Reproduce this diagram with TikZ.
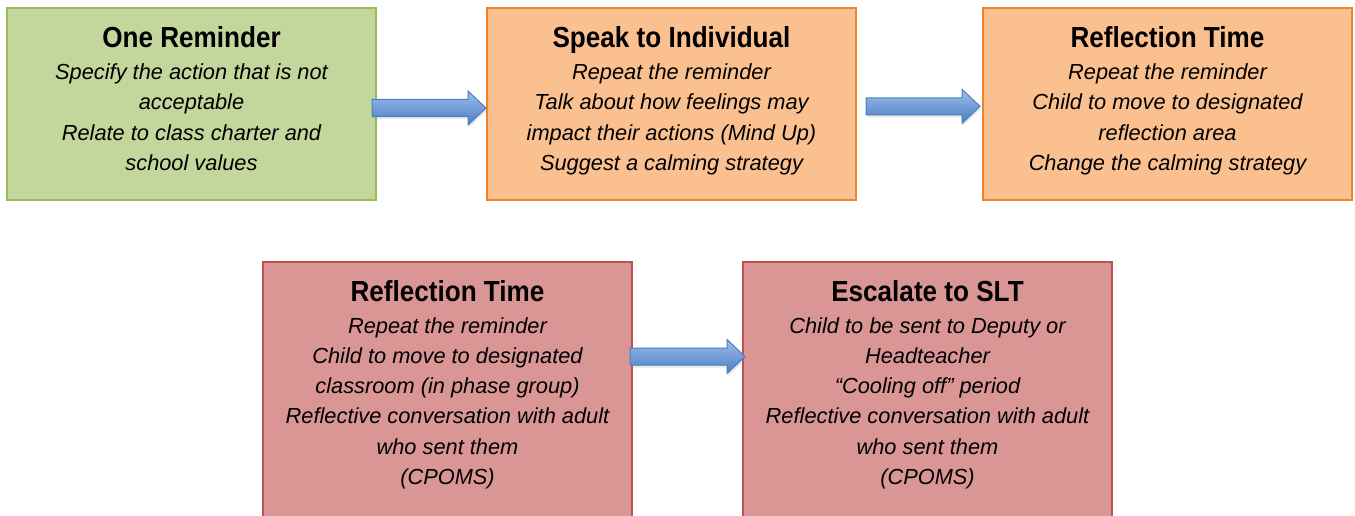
\documentclass[tikz,border=0pt]{standalone}
\usepackage{fontspec}
\usetikzlibrary{shadows}
\setmainfont{Liberation Sans}
\newfontfamily\titlefont{Liberation Sans}[FakeStretch=0.9]
\definecolor{gfill}{HTML}{C3D69B}
\definecolor{gdraw}{HTML}{9BBB59}
\definecolor{ofill}{HTML}{FAC090}
\definecolor{odraw}{HTML}{F0822A}
\definecolor{rfill}{HTML}{D99694}
\definecolor{rdraw}{HTML}{C0504D}
\definecolor{atop}{HTML}{9DBDEA}
\definecolor{abot}{HTML}{4A7EC4}
\definecolor{adraw}{HTML}{4A7EBB}
\tikzset{
  stepbox/.style={rectangle, minimum width=369pt, line width=1.5pt, inner sep=0pt},
  boxtext/.style={anchor=north, align=center, inner sep=0pt,
    font=\fontsize{21.8}{30.3}\selectfont\itshape},
  blockarrow/.style={draw=adraw, line width=1pt, top color=atop, bottom color=abot,
    drop shadow={opacity=0.2, shadow xshift=1pt, shadow yshift=-2.5pt}}
}
\newcommand\ttl[1]{{\titlefont\upshape\bfseries\fontsize{29}{30}\selectfont #1}\\[1.3pt]}
\newcommand\barrow[3]{%
  \path[blockarrow] (#1,#3-8.5) -- (#2-18,#3-8.5) -- (#2-18,#3-17) -- (#2,#3)
    -- (#2-18,#3+17) -- (#2-18,#3+8.5) -- (#1,#3+8.5) -- cycle;}
\begin{document}
\begin{tikzpicture}[x=1pt,y=-1pt]
\useasboundingbox (0,0) rectangle (1355,516);
\node[stepbox, minimum height=192pt, fill=gfill, draw=gdraw] (b1) at (191.5,104) {};
\node[stepbox, minimum height=192pt, fill=ofill, draw=odraw] (b2) at (671.5,104) {};
\node[stepbox, minimum height=192pt, fill=ofill, draw=odraw] (b3) at (1167.5,104) {};
\node[stepbox, minimum height=270pt, fill=rfill, draw=rdraw] (b4) at (447.5,397) {};
\node[stepbox, minimum height=270pt, fill=rfill, draw=rdraw] (b5) at (927.5,397) {};

\node[boxtext] (t1) at ([yshift=-19.5pt]b1.north) {\ttl{One Reminder}Specify the action that is not\\acceptable\\Relate to class charter and\\school values};
\node[boxtext] (t2) at ([yshift=-19.5pt]b2.north) {\ttl{Speak to Individual}Repeat the reminder\\Talk about how feelings may\\impact their actions (Mind Up)\\Suggest a calming strategy};
\node[boxtext] (t3) at ([yshift=-19.5pt]b3.north) {\ttl{Reflection Time}Repeat the reminder\\Child to move to designated\\reflection area\\Change the calming strategy};
\node[boxtext] (t4) at ([yshift=-19pt]b4.north) {\ttl{Reflection Time}Repeat the reminder\\Child to move to designated\\classroom (in phase group)\\Reflective conversation with adult\\who sent them\\(CPOMS)};
\node[boxtext] (t5) at ([yshift=-19pt]b5.north) {\ttl{Escalate to SLT}Child to be sent to Deputy or\\Headteacher\\“Cooling off” period\\Reflective conversation with adult\\who sent them\\(CPOMS)};

\barrow{372}{486}{108}
\barrow{866}{980}{106.3}
\barrow{630}{745}{356.5}
\end{tikzpicture}
\end{document}
